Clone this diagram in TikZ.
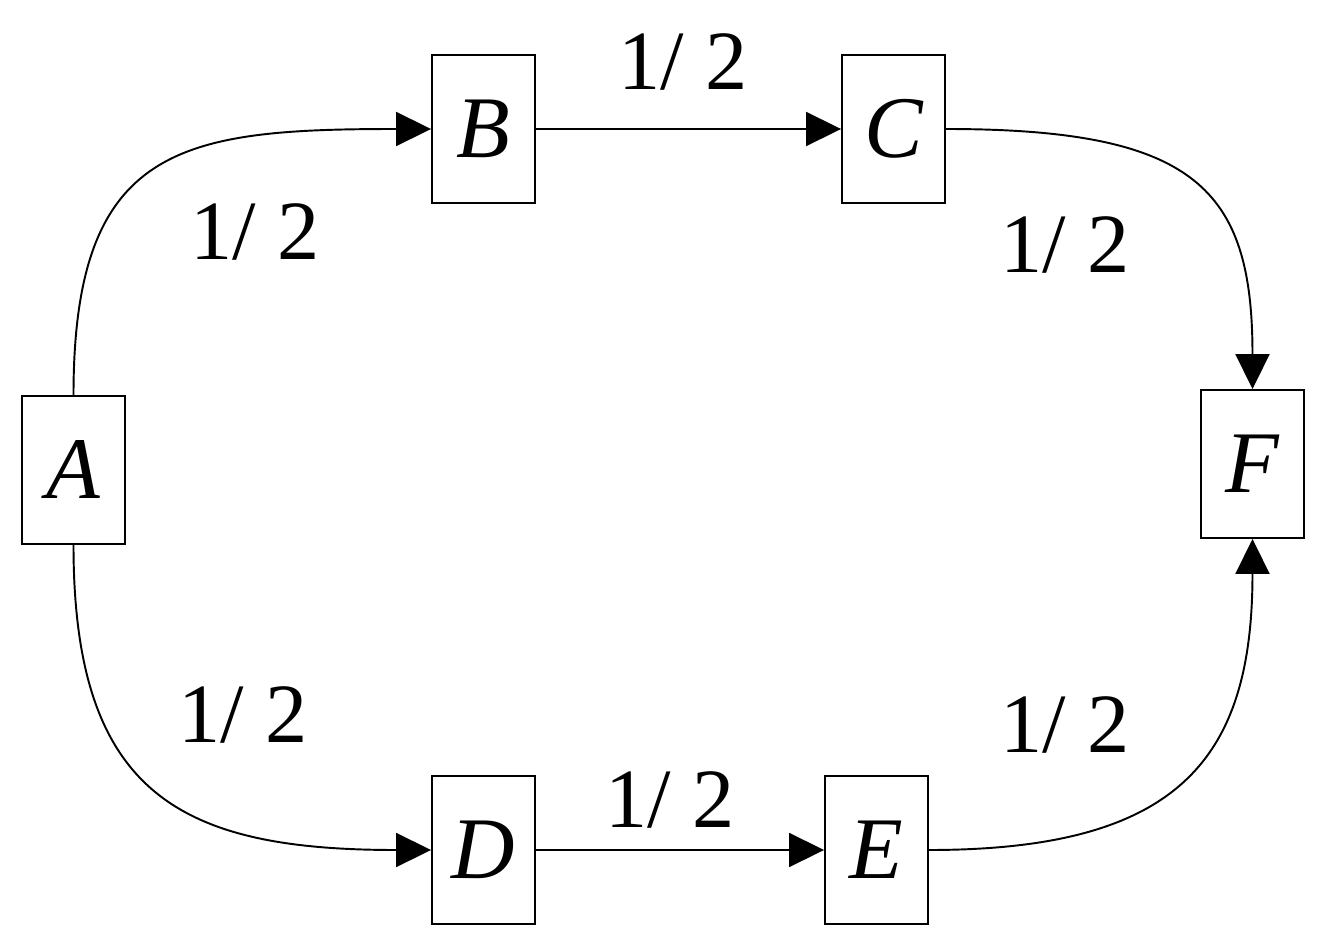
\documentclass[tikz,border=0pt]{standalone}
\usepackage{fontspec}
\setmainfont{Liberation Serif}
\usetikzlibrary{arrows.meta}
\begin{document}
\begin{tikzpicture}[x=0.02cm,y=-0.02cm,
  box/.style={draw,line width=1.1pt,minimum width=2.06cm,minimum height=2.96cm,inner sep=0pt,font=\fontsize{50}{56}\selectfont\itshape},
  lab/.style={font=\fontsize{48}{56}\selectfont},
  arr/.style={line width=1.1pt,-{Triangle[length=0.7cm,width=0.68cm]}}]
\useasboundingbox (0,0) rectangle (1323,950);
\node[box] (A) at (73.5,470) {A};
\node[box] (B) at (483.5,129) {B};
\node[box] (C) at (893.5,129) {C};
\node[box] (F) at (1252.5,464) {F};
\node[box] (D) at (483.5,850) {D};
\node[box] (E) at (876.5,850) {E};
\draw[arr] (A.north) .. controls +(0,-250) and +(-250,0) .. (B.west);
\draw[arr] (B.east) -- (C.west);
\draw[arr] (C.east) .. controls +(250,0) and +(0,-200) .. (F.north);
\draw[arr] (A.south) .. controls +(0,250) and +(-250,0) .. (D.west);
\draw[arr] (D.east) -- (E.west);
\draw[arr] (E.east) .. controls +(250,0) and +(0,220) .. (F.south);
\node[lab] (l1) at (683,62) {1/ 2};
\node[lab] (l2) at (255,232) {1/ 2};
\node[lab] (l3) at (1065,245) {1/ 2};
\node[lab] (l4) at (243,715) {1/ 2};
\node[lab] (l5) at (670,800) {1/ 2};
\node[lab] (l6) at (1065,725) {1/ 2};
\end{tikzpicture}
\end{document}
